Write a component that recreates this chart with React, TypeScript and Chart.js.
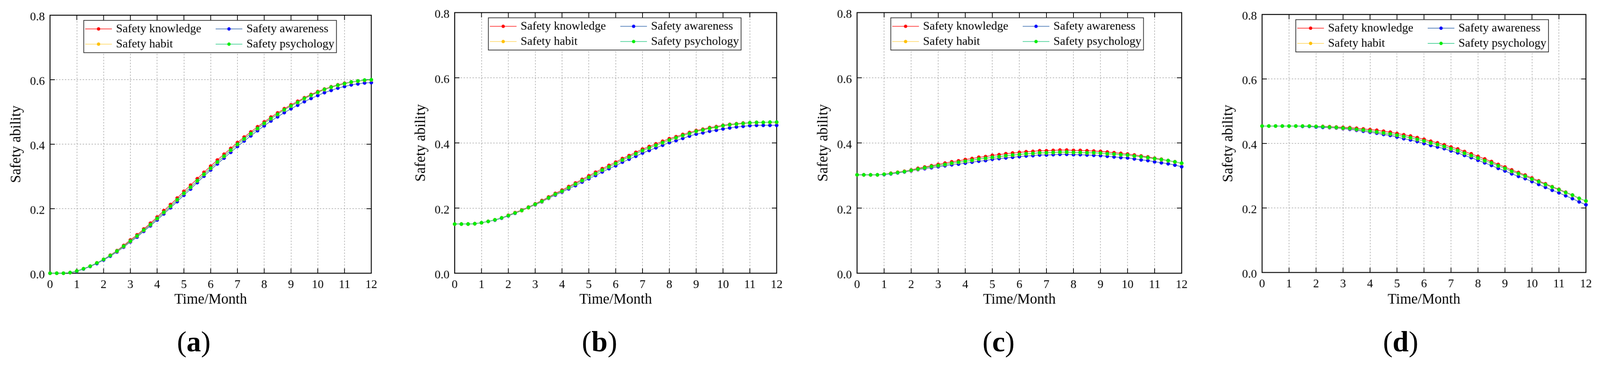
import { useEffect, useRef } from 'react'
import { Chart, registerables } from 'chart.js'

Chart.register(...registerables)

const months = [
  0, 0.25, 0.5, 0.75, 1, 1.25, 1.5, 1.75, 2, 2.25, 2.5, 2.75, 3, 3.25, 3.5, 3.75, 4, 4.25, 4.5, 4.75, 5, 5.25, 5.5, 5.75,
  6, 6.25, 6.5, 6.75, 7, 7.25, 7.5, 7.75, 8, 8.25, 8.5, 8.75, 9, 9.25, 9.5, 9.75, 10, 10.25, 10.5, 10.75, 11, 11.25, 11.5,
  11.75, 12,
]
const xTickValues = [0, 1, 2, 3, 4, 5, 6, 7, 8, 9, 10, 11, 12]
const yTickValues = [0, 0.2, 0.4, 0.6, 0.8]

const seriesNames = ['Safety knowledge', 'Safety awareness', 'Safety habit', 'Safety psychology']
const lineColors = ['#ff0000', '#1f5aa6', '#ffd24a', '#18c47c']
const markerColors = ['#ff0000', '#0000ff', '#ffc000', '#00ee00']

// (a)
const knowledgeA = [
  0.0, 0.0, 0.0, 0.002, 0.007, 0.014, 0.022, 0.032, 0.043, 0.056, 0.07, 0.086, 0.103, 0.119, 0.137, 0.155, 0.174, 0.194,
  0.213, 0.233, 0.254, 0.273, 0.293, 0.313, 0.332, 0.351, 0.369, 0.387, 0.405, 0.422, 0.438, 0.454, 0.469, 0.484, 0.497,
  0.51, 0.522, 0.533, 0.544, 0.554, 0.563, 0.571, 0.578, 0.584, 0.589, 0.593, 0.596, 0.598, 0.599,
]
const awarenessA = [
  0.0, 0.0, 0.0, 0.002, 0.006, 0.013, 0.021, 0.03, 0.041, 0.053, 0.066, 0.081, 0.097, 0.112, 0.13, 0.147, 0.165, 0.184,
  0.203, 0.222, 0.242, 0.261, 0.281, 0.301, 0.32, 0.339, 0.357, 0.375, 0.393, 0.41, 0.426, 0.442, 0.457, 0.472, 0.485,
  0.498, 0.51, 0.521, 0.532, 0.542, 0.551, 0.56, 0.567, 0.574, 0.579, 0.584, 0.587, 0.59, 0.591,
]
const habitA = [
  0.0, 0.0, 0.0, 0.002, 0.007, 0.014, 0.022, 0.032, 0.043, 0.055, 0.068, 0.083, 0.099, 0.115, 0.133, 0.15, 0.169, 0.188,
  0.207, 0.227, 0.247, 0.266, 0.286, 0.306, 0.325, 0.344, 0.362, 0.381, 0.399, 0.416, 0.432, 0.448, 0.464, 0.479, 0.492,
  0.506, 0.518, 0.529, 0.541, 0.551, 0.56, 0.569, 0.576, 0.582, 0.587, 0.592, 0.595, 0.598, 0.599,
]
const psychologyA = [
  0.0, 0.0, 0.0, 0.002, 0.007, 0.014, 0.022, 0.032, 0.043, 0.055, 0.069, 0.084, 0.1, 0.116, 0.134, 0.151, 0.17, 0.189,
  0.208, 0.228, 0.248, 0.267, 0.287, 0.307, 0.326, 0.345, 0.363, 0.382, 0.4, 0.417, 0.433, 0.449, 0.465, 0.48, 0.493,
  0.507, 0.519, 0.53, 0.542, 0.552, 0.561, 0.57, 0.577, 0.583, 0.588, 0.593, 0.596, 0.599, 0.6,
]

// (b)
const knowledgeB = [
  0.151, 0.151, 0.151, 0.152, 0.155, 0.159, 0.164, 0.17, 0.178, 0.186, 0.194, 0.203, 0.213, 0.223, 0.234, 0.245, 0.255,
  0.266, 0.277, 0.288, 0.299, 0.31, 0.321, 0.331, 0.341, 0.352, 0.361, 0.371, 0.381, 0.389, 0.397, 0.405, 0.413, 0.419,
  0.426, 0.432, 0.438, 0.442, 0.447, 0.45, 0.454, 0.457, 0.459, 0.461, 0.462, 0.463, 0.463, 0.463, 0.463,
]
const awarenessB = [
  0.151, 0.151, 0.151, 0.152, 0.155, 0.159, 0.163, 0.169, 0.176, 0.184, 0.192, 0.201, 0.21, 0.219, 0.23, 0.24, 0.249,
  0.259, 0.269, 0.28, 0.29, 0.3, 0.311, 0.321, 0.33, 0.341, 0.35, 0.359, 0.369, 0.377, 0.385, 0.393, 0.401, 0.407, 0.414,
  0.421, 0.427, 0.431, 0.436, 0.439, 0.443, 0.446, 0.449, 0.451, 0.453, 0.454, 0.454, 0.454, 0.454,
]
const habitB = [
  0.151, 0.151, 0.151, 0.152, 0.155, 0.159, 0.164, 0.17, 0.177, 0.185, 0.192, 0.201, 0.211, 0.22, 0.231, 0.242, 0.251,
  0.262, 0.273, 0.284, 0.294, 0.305, 0.316, 0.326, 0.336, 0.347, 0.356, 0.366, 0.376, 0.384, 0.392, 0.4, 0.408, 0.415,
  0.422, 0.428, 0.435, 0.439, 0.444, 0.447, 0.452, 0.455, 0.457, 0.459, 0.461, 0.462, 0.463, 0.463, 0.463,
]
const psychologyB = [
  0.151, 0.151, 0.151, 0.152, 0.155, 0.159, 0.164, 0.17, 0.177, 0.185, 0.193, 0.202, 0.212, 0.221, 0.232, 0.243, 0.252,
  0.263, 0.274, 0.285, 0.295, 0.306, 0.317, 0.327, 0.337, 0.348, 0.357, 0.367, 0.377, 0.385, 0.393, 0.401, 0.409, 0.416,
  0.423, 0.429, 0.436, 0.44, 0.445, 0.448, 0.453, 0.456, 0.458, 0.46, 0.462, 0.463, 0.463, 0.464, 0.464,
]

// (c)
const knowledgeC = [
  0.302, 0.302, 0.302, 0.302, 0.304, 0.307, 0.31, 0.313, 0.317, 0.322, 0.326, 0.33, 0.334, 0.338, 0.342, 0.345, 0.349,
  0.352, 0.356, 0.358, 0.362, 0.364, 0.367, 0.369, 0.371, 0.373, 0.374, 0.376, 0.376, 0.377, 0.378, 0.378, 0.377, 0.377,
  0.376, 0.375, 0.374, 0.372, 0.37, 0.368, 0.366, 0.363, 0.36, 0.357, 0.353, 0.35, 0.346, 0.342, 0.337,
]
const awarenessC = [
  0.302, 0.302, 0.302, 0.302, 0.303, 0.305, 0.308, 0.311, 0.314, 0.318, 0.321, 0.324, 0.327, 0.33, 0.333, 0.335, 0.338,
  0.341, 0.344, 0.346, 0.35, 0.352, 0.354, 0.356, 0.358, 0.36, 0.361, 0.363, 0.363, 0.364, 0.365, 0.365, 0.364, 0.364,
  0.363, 0.362, 0.361, 0.359, 0.357, 0.355, 0.354, 0.351, 0.348, 0.346, 0.342, 0.339, 0.336, 0.332, 0.327,
]
const habitC = [
  0.302, 0.302, 0.302, 0.302, 0.304, 0.306, 0.309, 0.312, 0.315, 0.319, 0.323, 0.327, 0.33, 0.333, 0.337, 0.34, 0.343,
  0.346, 0.35, 0.352, 0.355, 0.357, 0.36, 0.362, 0.364, 0.366, 0.367, 0.369, 0.369, 0.37, 0.371, 0.371, 0.37, 0.37,
  0.369, 0.369, 0.368, 0.366, 0.365, 0.363, 0.362, 0.359, 0.357, 0.354, 0.351, 0.348, 0.345, 0.341, 0.337,
]
const psychologyC = [
  0.302, 0.302, 0.302, 0.302, 0.304, 0.306, 0.309, 0.312, 0.316, 0.32, 0.324, 0.328, 0.331, 0.334, 0.338, 0.341, 0.344,
  0.347, 0.351, 0.353, 0.356, 0.358, 0.361, 0.363, 0.365, 0.367, 0.368, 0.37, 0.37, 0.371, 0.372, 0.372, 0.371, 0.371,
  0.37, 0.37, 0.369, 0.367, 0.366, 0.364, 0.363, 0.36, 0.358, 0.355, 0.352, 0.349, 0.346, 0.342, 0.338,
]

// (d)
const knowledgeD = [
  0.454, 0.454, 0.454, 0.454, 0.454, 0.454, 0.454, 0.454, 0.453, 0.453, 0.452, 0.451, 0.45, 0.449, 0.447, 0.445, 0.443,
  0.441, 0.438, 0.435, 0.431, 0.427, 0.423, 0.418, 0.413, 0.407, 0.402, 0.396, 0.389, 0.383, 0.375, 0.368, 0.36, 0.352,
  0.344, 0.335, 0.327, 0.318, 0.31, 0.302, 0.293, 0.284, 0.275, 0.266, 0.258, 0.249, 0.24, 0.23, 0.221,
]
const awarenessD = [
  0.454, 0.454, 0.454, 0.454, 0.454, 0.454, 0.453, 0.453, 0.451, 0.45, 0.449, 0.448, 0.446, 0.444, 0.441, 0.438, 0.435,
  0.432, 0.428, 0.425, 0.42, 0.415, 0.411, 0.406, 0.4, 0.394, 0.389, 0.384, 0.377, 0.371, 0.363, 0.356, 0.348, 0.34, 0.332,
  0.323, 0.315, 0.306, 0.298, 0.291, 0.282, 0.273, 0.264, 0.255, 0.247, 0.238, 0.229, 0.219, 0.21,
]
const habitD = [
  0.454, 0.454, 0.454, 0.454, 0.454, 0.454, 0.454, 0.454, 0.453, 0.452, 0.45, 0.449, 0.447, 0.446, 0.443, 0.441, 0.438,
  0.435, 0.432, 0.429, 0.425, 0.421, 0.417, 0.412, 0.407, 0.401, 0.396, 0.39, 0.383, 0.377, 0.369, 0.362, 0.354, 0.346,
  0.339, 0.33, 0.322, 0.313, 0.306, 0.298, 0.289, 0.281, 0.272, 0.264, 0.256, 0.247, 0.239, 0.229, 0.221,
]
const psychologyD = [
  0.454, 0.454, 0.454, 0.454, 0.454, 0.454, 0.454, 0.454, 0.453, 0.452, 0.451, 0.45, 0.448, 0.447, 0.444, 0.442, 0.439,
  0.436, 0.433, 0.43, 0.426, 0.422, 0.418, 0.413, 0.408, 0.402, 0.397, 0.391, 0.384, 0.378, 0.37, 0.363, 0.355, 0.347,
  0.34, 0.331, 0.323, 0.314, 0.307, 0.299, 0.29, 0.282, 0.273, 0.265, 0.257, 0.248, 0.24, 0.23, 0.222,
]

const FONT = '"Liberation Serif", "Times New Roman", serif'
const PAGE_W = 4318
const CANVAS_H = 860

interface PanelProps {
  series: number[][]
  caption: string
  plotLeft: number
  plotRight: number
  plotTop: number
  plotBottom: number
  captionX: number
}

// black box with inward ticks on all four sides
const framePlugin = {
  id: 'frame',
  beforeDatasetsDraw(chart: any) {
    const { ctx, chartArea, scales } = chart
    const { left, right, top, bottom } = chartArea
    const tl = 13
    ctx.save()
    ctx.strokeStyle = '#000'
    ctx.lineWidth = 2
    ctx.beginPath()
    scales.x.ticks.forEach((t: any) => {
      const px = scales.x.getPixelForValue(t.value)
      ctx.moveTo(px, bottom)
      ctx.lineTo(px, bottom - tl)
      ctx.moveTo(px, top)
      ctx.lineTo(px, top + tl)
    })
    scales.y.ticks.forEach((t: any) => {
      const py = scales.y.getPixelForValue(t.value)
      ctx.moveTo(left, py)
      ctx.lineTo(left + tl, py)
      ctx.moveTo(right, py)
      ctx.lineTo(right - tl, py)
    })
    ctx.stroke()
    ctx.lineWidth = 2.5
    ctx.strokeRect(left, top, right - left, bottom - top)
    ctx.restore()
  },
}

// two-column boxed legend, like the MATLAB one
const boxLegendPlugin = {
  id: 'boxLegend',
  afterDatasetsDraw(chart: any, _args: any, opts: any) {
    const { ctx, chartArea } = chart
    const bx = chartArea.left + opts.dx
    const by = chartArea.top + opts.dy
    ctx.save()
    ctx.fillStyle = '#fff'
    ctx.fillRect(bx, by, opts.width, opts.height)
    ctx.strokeStyle = '#333'
    ctx.lineWidth = 2
    ctx.strokeRect(bx, by, opts.width, opts.height)
    ctx.font = `32px ${FONT}`
    ctx.textBaseline = 'middle'
    chart.data.datasets.forEach((ds: any, i: number) => {
      const col = i % 2
      const row = Math.floor(i / 2)
      const lx = bx + (col ? 356 : 4)
      const ly = by + (row ? 64 : 23)
      ctx.strokeStyle = ds.borderColor
      ctx.lineWidth = 1.5
      ctx.beginPath()
      ctx.moveTo(lx, ly)
      ctx.lineTo(lx + 72, ly)
      ctx.stroke()
      ctx.fillStyle = ds.pointBackgroundColor
      ctx.beginPath()
      ctx.arc(lx + 36, ly, 4.5, 0, Math.PI * 2)
      ctx.fill()
      ctx.fillStyle = '#000'
      ctx.fillText(ds.label, lx + 83, ly + 1)
    })
    ctx.restore()
  },
}

function Panel({ series, caption, plotLeft, plotRight, plotTop, plotBottom, captionX }: PanelProps) {
  const canvasRef = useRef<HTMLCanvasElement>(null)
  const yAxisW = 135
  const padRight = 40
  const width = plotRight - plotLeft + yAxisW + padRight

  useEffect(() => {
    if (!canvasRef.current) return
    const ctx = canvasRef.current.getContext('2d')
    if (!ctx) return

    const chart = new Chart(ctx, {
      type: 'line',
      data: {
        datasets: series.map((vals, i) => ({
          label: seriesNames[i],
          data: months.map((m, j) => ({ x: m, y: vals[j] })),
          borderColor: lineColors[i],
          backgroundColor: markerColors[i],
          pointBackgroundColor: markerColors[i],
          pointBorderColor: markerColors[i],
          pointRadius: 4.5,
          pointBorderWidth: 1,
          borderWidth: 1.5,
          tension: 0,
          clip: false as any,
          order: 3 - i,
        })),
      },
      options: {
        responsive: false,
        animation: false,
        devicePixelRatio: 1,
        events: [],
        layout: { padding: { left: 0, top: plotTop, right: padRight, bottom: 0 } },
        plugins: {
          legend: { display: false },
          tooltip: { enabled: false },
          boxLegend: { dx: 91, dy: 14, width: 682, height: 87 },
        } as any,
        scales: {
          x: {
            type: 'linear',
            min: 0,
            max: 12,
            afterBuildTicks: (s: any) => {
              s.ticks = xTickValues.map((v) => ({ value: v }))
            },
            afterFit: (s: any) => {
              s.height = CANVAS_H - plotBottom
            },
            ticks: { padding: 12, color: '#000', font: { family: FONT, size: 32 }, maxRotation: 0 },
            grid: { color: '#a3a3a3', lineWidth: 1.5, drawTicks: false },
            border: { display: false, dash: [4, 4] },
            title: {
              display: true,
              text: 'Time/Month',
              color: '#000',
              font: { family: FONT, size: 39 },
              padding: { top: 0, bottom: 28 },
            },
          },
          y: {
            min: 0,
            max: 0.8,
            afterBuildTicks: (s: any) => {
              s.ticks = yTickValues.map((v) => ({ value: v }))
            },
            afterFit: (s: any) => {
              s.width = yAxisW
            },
            ticks: {
              padding: 14,
              labelOffset: 6,
              color: '#000',
              font: { family: FONT, size: 32 },
              callback: (v: any) => Number(v).toFixed(1),
            },
            grid: { color: '#a3a3a3', lineWidth: 1.5, drawTicks: false },
            border: { display: false, dash: [4, 4] },
            title: {
              display: true,
              text: 'Safety ability',
              color: '#000',
              font: { family: FONT, size: 39 },
              padding: { top: 21, bottom: 0 },
            },
          },
        },
      },
      plugins: [framePlugin, boxLegendPlugin],
    })

    return () => {
      chart.destroy()
    }
  }, [series, plotTop, plotBottom])

  return (
    <>
      <div style={{ position: 'absolute', left: plotLeft - yAxisW, top: 0, width, height: CANVAS_H }}>
        <canvas ref={canvasRef} width={width} height={CANVAS_H} style={{ display: 'block' }} />
      </div>
      <div
        style={{
          position: 'absolute',
          left: captionX - 100,
          top: 883,
          width: 200,
          textAlign: 'center',
          fontFamily: FONT,
          fontSize: 78,
          lineHeight: '78px',
          color: '#000',
        }}
      >
        (<b>{caption}</b>)
      </div>
    </>
  )
}

const panels = [
  { caption: 'a', series: [knowledgeA, awarenessA, habitA, psychologyA], plotLeft: 135, plotRight: 1002, plotTop: 41, plotBottom: 737, captionX: 523 },
  { caption: 'b', series: [knowledgeB, awarenessB, habitB, psychologyB], plotLeft: 1227, plotRight: 2096, plotTop: 34, plotBottom: 737, captionX: 1618 },
  { caption: 'c', series: [knowledgeC, awarenessC, habitC, psychologyC], plotLeft: 2313, plotRight: 3189, plotTop: 34, plotBottom: 737, captionX: 2695 },
  { caption: 'd', series: [knowledgeD, awarenessD, habitD, psychologyD], plotLeft: 3406, plotRight: 4280, plotTop: 39, plotBottom: 735, captionX: 3780 },
]

export default function App() {
  // the viewport may be narrower than the 4318px picture, so fit the whole figure to it
  const k = typeof window !== 'undefined' && window.innerWidth ? window.innerWidth / PAGE_W : 1
  return (
    <div
      style={{
        position: 'absolute',
        left: 0,
        top: 0,
        width: PAGE_W,
        height: 980,
        background: '#fff',
        overflow: 'hidden',
        transform: `scale(${k})`,
        transformOrigin: '0 0',
      }}
    >
      {panels.map((p) => (
        <Panel key={p.caption} {...p} />
      ))}
    </div>
  )
}
